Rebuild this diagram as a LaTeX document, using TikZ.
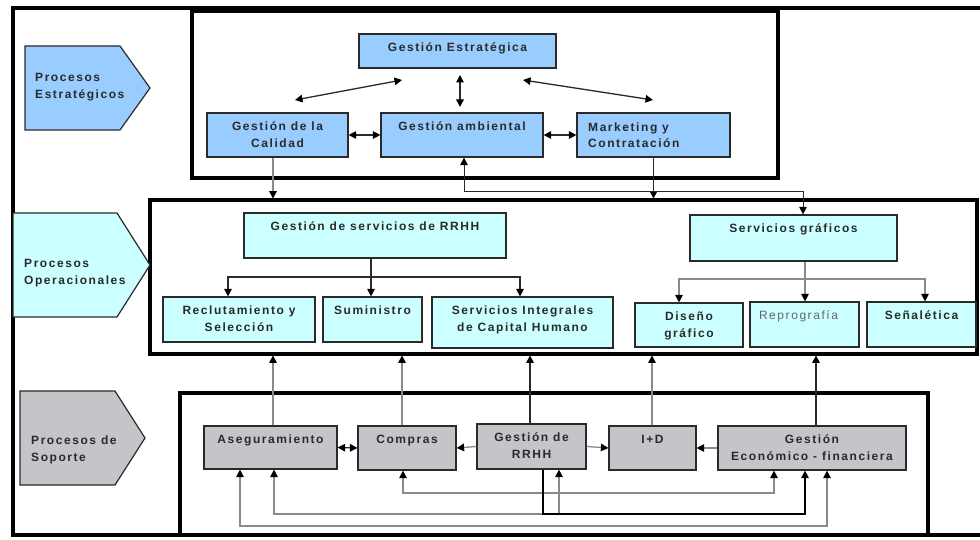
\documentclass[tikz,border=0pt]{standalone}
\usepackage{fontspec}
\setmainfont{Liberation Sans}
\newfontfamily\lblfont{Liberation Sans}[LetterSpace=13]
\usetikzlibrary{arrows.meta,fit}
\definecolor{cblue}{HTML}{99CCFF}
\definecolor{ccyan}{HTML}{CCFFFF}
\definecolor{cgray}{HTML}{C6C4C8}
\definecolor{ctext}{HTML}{2A2A2A}
\definecolor{cline}{HTML}{8A8A8A}
\definecolor{cedge}{HTML}{2A2A2A}
\tikzset{
  frame/.style={line width=4pt, draw=black},
  boxst/.style={draw=cedge, line width=1.2pt, inner sep=0pt},
  txt/.style={anchor=north, align=center, inner sep=0pt, text=ctext,
    font=\lblfont\bfseries\fontsize{12}{16.5}\selectfont},
  ltxt/.style={txt, anchor=north west, align=left},
  chev/.style={draw=cedge, line width=1.2pt},
  ctxt/.style={anchor=north west, align=left, inner sep=0pt, text=ctext,
    font=\lblfont\bfseries\fontsize{12}{17.5}\selectfont},
  tip/.tip={Triangle[width=7.5pt,length=7.5pt,color=black]},
  arr/.style={-tip, line width=1.3pt, draw=cedge},
  arrg/.style={-tip, line width=1.3pt, draw=cline},
  darr/.style={tip-tip, line width=1.3pt, draw=cedge},
  darrg/.style={tip-tip, line width=1.3pt, draw=cline},
}
\begin{document}
\begin{tikzpicture}[x=1pt,y=-1pt]
\useasboundingbox (0,0) rectangle (980,540);
\fill[white] (0,0) rectangle (980,540);

% frames
\draw[frame] (982,8) -- (13,8) -- (13,535) -- (982,535);
\draw[frame] (192,11) rectangle (778,178);
\draw[frame] (150,200) rectangle (977,354);
\draw[frame] (180,393) rectangle (928,535);

% chevrons
\draw[chev, fill=cblue] (25,46) -- (120,46) -- (150,88) -- (120,130) -- (25,130) -- cycle;
\node[ctxt] (pe) at (35,68.75) {\strut Procesos\\Estratégicos};
\draw[chev, fill=ccyan] (13,213) -- (117,213) -- (150,265) -- (117,317) -- (13,317) -- cycle;
\node[ctxt] (po) at (24,254.75) {\strut Procesos\\Operacionales};
\draw[chev, fill=cgray] (20,391) -- (115,391) -- (145,438) -- (115,485) -- (20,485) -- cycle;
\node[ctxt] (ps) at (31,431.75) {\strut Procesos de\\Soporte};

% strategic boxes
\node[boxst, fill=cblue, fit={(359,34) (556,68)}] (ge) {};
\node[txt] (geT) at ([yshift=-6.45pt]ge.north) {\strut Gestión Estratégica};
\node[boxst, fill=cblue, fit={(207,113) (348,157)}] (gc) {};
\node[txt] (gcT) at ([yshift=-6.45pt]gc.north) {\strut Gestión de la\\Calidad};
\node[boxst, fill=cblue, fit={(381,113) (543,157)}] (ga) {};
\node[txt] (gaT) at ([yshift=-6.45pt]ga.north) {\strut Gestión ambiental};
\node[boxst, fill=cblue, fit={(577,113) (730,157)}] (gm) {};
\node[ltxt] (gmT) at (588,119.45) {\strut Marketing y\\Contratación};

% operational boxes
\node[boxst, fill=ccyan, fit={(244,213) (506,258)}] (gs) {};
\node[txt] (gsT) at ([yshift=-6.45pt]gs.north) {\strut Gestión de servicios de RRHH};
\node[boxst, fill=ccyan, fit={(163,297) (315,342)}] (rs) {};
\node[txt] (rsT) at ([yshift=-6.45pt]rs.north) {\strut Reclutamiento y\\Selección};
\node[boxst, fill=ccyan, fit={(323,297) (422,342)}] (su) {};
\node[txt] (suT) at ([yshift=-6.45pt]su.north) {\strut Suministro};
\node[boxst, fill=ccyan, fit={(432,297) (613,348)}] (si) {};
\node[txt] (siT) at ([yshift=-6.45pt]si.north) {\strut Servicios Integrales\\de Capital Humano};
\node[boxst, fill=ccyan, fit={(690,215) (897,261)}] (sg) {};
\node[txt] (sgT) at ([yshift=-6.45pt]sg.north) {\strut Servicios gráficos};
\node[boxst, fill=ccyan, fit={(635,303) (743,347)}] (dg) {};
\node[txt] (dgT) at ([yshift=-6.45pt]dg.north) {\strut Diseño\\gráfico};
\node[boxst, fill=ccyan, fit={(750,302) (859,347)}] (rp) {};
\node[txt, font=\lblfont\fontsize{12}{16.5}\selectfont, text=black!60] (rpT) at ([xshift=-6pt,yshift=-6.45pt]rp.north) {\strut Reprografía};
\node[boxst, fill=ccyan, fit={(867,302) (976,347)}] (se) {};
\node[txt] (seT) at ([yshift=-6.45pt]se.north) {\strut Señalética};

% support boxes
\node[boxst, fill=cgray, fit={(204,426) (337,469)}] (as) {};
\node[txt] (asT) at ([yshift=-6.45pt]as.north) {\strut Aseguramiento};
\node[boxst, fill=cgray, fit={(358,426) (456,470)}] (co) {};
\node[txt] (coT) at ([yshift=-6.45pt]co.north) {\strut Compras};
\node[boxst, fill=cgray, fit={(477,424) (586,469)}] (gr) {};
\node[txt] (grT) at ([yshift=-6.45pt]gr.north) {\strut Gestión de\\RRHH};
\node[boxst, fill=cgray, fit={(609,426) (696,470)}] (id) {};
\node[txt] (idT) at ([yshift=-6.45pt]id.north) {\strut I+D};
\node[boxst, fill=cgray, fit={(718,426) (906,470)}] (ef) {};
\node[txt] (efT) at ([yshift=-6.45pt]ef.north) {\strut Gestión\\Económico - financiera};

% strategic arrows
\coordinate (s1a) at (295,100); \coordinate (s1b) at (402,80);
\coordinate (s2a) at (460,75);  \coordinate (s2b) at (460,107);
\coordinate (s3a) at (523,80);  \coordinate (s3b) at (653,100);
\draw[darr] (s1a) -- (s1b);
\draw[darr] (s2a) -- (s2b);
\draw[darr] (s3a) -- (s3b);
\draw[darr] (gc.east) -- (ga.west);
\draw[darr] (ga.east) -- (gm.west);

% strategic to operational
\draw[arrg] ([xshift=-4.5pt]gc.south) -- ++(0,41);
\draw[arr] (gm.south) -- ++(0,41);
\coordinate (hA) at (803,192);
\draw[darr, line width=1pt] ([xshift=2pt]ga.south) |- (hA) -- ([xshift=9.5pt]sg.north);

% RRHH distribution
\coordinate (jr) at (371,277);
\draw[arr] ([xshift=-4pt]gs.south) -- (su.north -| jr);
\draw[arr] (jr) -| ([xshift=-11pt]rs.north);
\draw[arr] (jr) -| ([xshift=-2.5pt]si.north);

% graphic services distribution
\coordinate (jg) at (805,279);
\draw[arrg] ([xshift=11.5pt]sg.south) -- (rp.north -| jg);
\draw[arrg] (jg) -| ([xshift=-10pt]dg.north);
\draw[arrg] (jg) -| ([xshift=3.5pt]se.north);

% support up to operational
\draw[arrg] ([xshift=2.5pt]as.north) -- ++(0,-70);
\draw[arrg] ([xshift=-5pt]co.north) -- ++(0,-70);
\draw[arr] ([xshift=-1.5pt]gr.north) -- ++(0,-68);
\draw[arrg] ([xshift=-0.5pt]id.north) -- ++(0,-70);
\draw[arr] ([xshift=4pt]ef.north) -- ++(0,-70);

% support horizontal
\draw[darr] (as.east) -- (co.west);
\draw[arrg] (gr.west) -- (co.east);
\draw[arrg] (gr.east) -- (id.west);
\draw[arrg] (ef.west) -- (id.east);

% support bottom loops
\coordinate (hC) at (600,493);
\coordinate (hB) at (700,514);
\coordinate (hB2) at (400,514);
\coordinate (hD) at (500,526);
\draw[darrg] ([xshift=-4pt]co.south) |- (hC) -| ([xshift=-38pt]ef.south);
\draw[darrg] ([xshift=3.5pt]as.south) |- (hB2) -| ([xshift=27.5pt]gr.south);
\draw[darrg] ([xshift=-30.5pt]as.south) |- (hD) -| ([xshift=15pt]ef.south);
\draw[arr, draw=black] ([xshift=11.5pt]gr.south) |- (hB) -| ([xshift=-7pt]ef.south);
\end{tikzpicture}
\end{document}
